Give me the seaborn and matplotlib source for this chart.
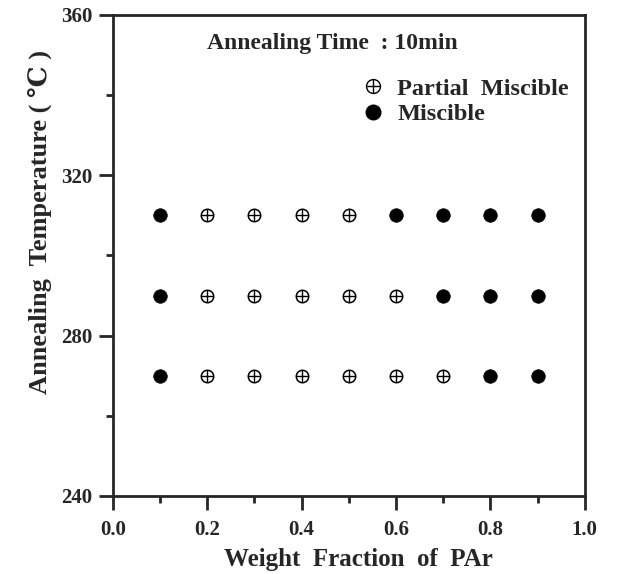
import matplotlib
matplotlib.use("Agg")
import matplotlib.pyplot as plt
import seaborn as sns
import pandas as pd
from matplotlib.lines import Line2D

fractions = [0.1, 0.2, 0.3, 0.4, 0.5, 0.6, 0.7, 0.8, 0.9]
temps = [310, 290, 270]
# state per temperature row: M = miscible, P = partial miscible
states_310 = ["M", "P", "P", "P", "P", "M", "M", "M", "M"]
states_290 = ["M", "P", "P", "P", "P", "P", "M", "M", "M"]
states_270 = ["M", "P", "P", "P", "P", "P", "P", "M", "M"]

rows = []
for t, st in zip(temps, [states_310, states_290, states_270]):
    for f, s in zip(fractions, st):
        rows.append({"frac": f, "temp": t, "state": s})
df = pd.DataFrame(rows)

sns.set_style("ticks")
plt.rcParams['font.family'] = ['Liberation Serif', 'DejaVu Serif']
plt.rcParams['font.weight'] = 'bold'

fig = plt.figure(figsize=(6.24, 5.74), dpi=100)
ax = fig.add_axes([0.181, 0.136, 0.756, 0.838])

mis = df[df.state == "M"]
par = df[df.state == "P"]
sns.scatterplot(data=mis, x="frac", y="temp", ax=ax, marker="o", s=95,
                color="black", edgecolor="black", linewidth=0.5, legend=False)
sns.scatterplot(data=par, x="frac", y="temp", ax=ax, marker="o", s=80,
                facecolor="white", edgecolor="black", linewidth=1.1, legend=False)
sns.scatterplot(data=par, x="frac", y="temp", ax=ax, marker="+", s=80,
                color="black", linewidth=1.0, legend=False)

ax.set_xlim(0, 1.0)
ax.set_ylim(240, 360)
ax.set_xticks([0.0, 0.2, 0.4, 0.6, 0.8, 1.0])
ax.set_xticks([0.1, 0.3, 0.5, 0.7, 0.9], minor=True)
ax.set_yticks([240, 280, 320, 360])
ax.set_yticks([260, 300, 340], minor=True)
ax.tick_params(axis="both", which="major", direction="out", length=10, width=2,
               labelsize=15)
ax.tick_params(axis="y", which="major", pad=5)
ax.tick_params(axis="x", which="major", pad=7)
ax.tick_params(axis="both", which="minor", direction="out", length=5, width=2)
for sp in ax.spines.values():
    sp.set_linewidth(2)
for lab in ax.get_xticklabels() + ax.get_yticklabels():
    lab.set_fontweight("bold")

ax.set_xlabel("Weight  Fraction  of  PAr", fontsize=18, fontweight="bold",
              labelpad=6, x=0.52)
ax.set_ylabel("Annealing  Temperature ( \u2103 )", fontsize=19, fontweight="bold",
              labelpad=6, y=0.57)

ax.text(0.2, 0.94, "Annealing Time  : 10min", transform=ax.transAxes,
        fontsize=17, fontweight="bold", va="center", ha="left")

h_partial = (Line2D([], [], marker="o", linestyle="none", markersize=10,
                    markerfacecolor="white", markeredgecolor="black", markeredgewidth=1.0),
             Line2D([], [], marker="+", linestyle="none", markersize=10,
                    color="black", markeredgewidth=1.0))
h_mis = Line2D([], [], marker="o", linestyle="none", markersize=10.5,
               markerfacecolor="black", markeredgecolor="black")
leg = ax.legend([h_partial, h_mis], ["Partial  Miscible", "Miscible"],
                loc="upper left", bbox_to_anchor=(0.50, 0.895), frameon=False,
                prop={"size": 17.5, "weight": "bold"}, handletextpad=0.5,
                labelspacing=0.15, borderpad=0.0, handlelength=1.0)

fig.savefig("out.png", dpi=100)
